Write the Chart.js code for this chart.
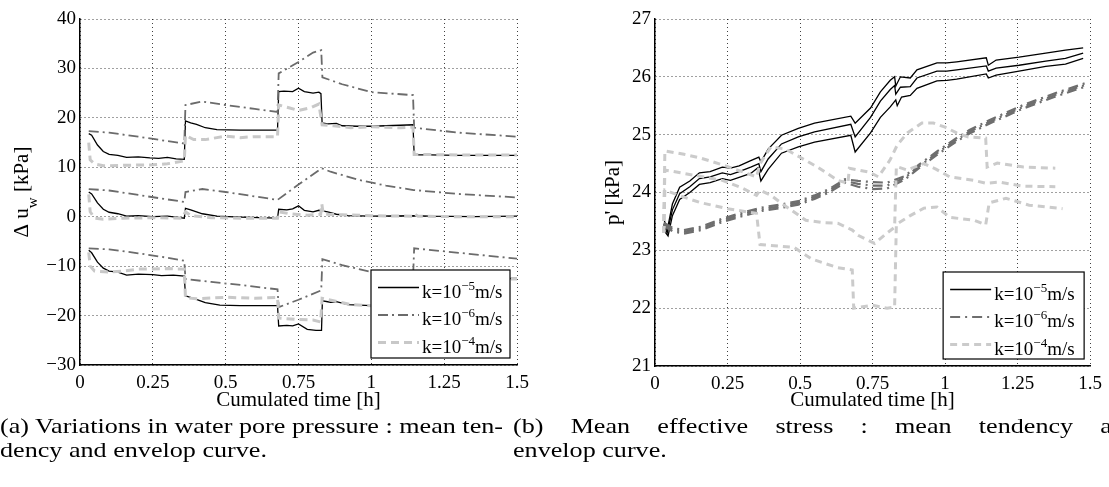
<!DOCTYPE html>
<html>
<head>
<meta charset="utf-8">
<script src="https://cdn.jsdelivr.net/npm/chart.js@4.4.1/dist/chart.umd.min.js"></script>
<style>
  html, body { margin: 0; padding: 0; background: #fff; width: 1109px; height: 487px; overflow: hidden; }
  .box { position: absolute; top: 0; height: 415px; }
  #leftBox { left: 0; width: 545px; }
  #rightBox { left: 580px; width: 529px; }
  .cap { position: absolute; font-family: "Liberation Serif", serif; font-size: 21px; white-space: nowrap; transform-origin: 0 0; color: #000; }
</style>
</head>
<body>
<div class="box" id="leftBox"><canvas id="uwChart"></canvas></div>
<div class="box" id="rightBox"><canvas id="pChart"></canvas></div>
<div class="cap" id="capA1" style="left:0;top:414px">(a) Variations in water pore pressure : mean ten-</div>
<div class="cap" id="capA2" style="left:0;top:438px">dency and envelop curve.</div>
<div class="cap" id="capB1" style="left:513px;top:414px">(b) Mean effective stress : mean tendency and</div>
<div class="cap" id="capB2" style="left:513px;top:438px">envelop curve.</div>
<script>
// ticks
const timeTicks = [0, 0.25, 0.5, 0.75, 1, 1.25, 1.5];
const uwTicks = [-30, -20, -10, 0, 10, 20, 30, 40];
const pTicks = [21, 22, 23, 24, 25, 26, 27];
const legendExps = ['\u22125', '\u22126', '\u22124'];

// (a) water pore pressure, [time h, du_w kPa]
const uwK5Up = [[0.03,16.8],[0.04,16.5],[0.06,14.5],[0.08,13.2],[0.1,12.6],[0.13,12.4],[0.16,12.0],[0.2,12.1],[0.24,11.9],[0.27,11.8],[0.3,12.0],[0.33,11.7],[0.358,11.6],[0.362,19.4],[0.38,19.0],[0.4,18.7],[0.43,18.0],[0.47,17.6],[0.55,17.5],[0.678,17.5],[0.682,25.3],[0.7,25.4],[0.73,25.3],[0.75,26.0],[0.77,25.3],[0.8,25.0],[0.82,25.2],[0.827,24.9],[0.831,19.0],[0.85,18.8],[0.88,18.9],[0.9,18.4],[0.95,18.3],[1.0,18.3],[1.1,18.5],[1.143,18.6],[1.147,12.5],[1.2,12.5],[1.3,12.4],[1.4,12.4],[1.5,12.4]];
const uwK5Mean = [[0.03,5.0],[0.04,4.6],[0.06,2.8],[0.08,1.5],[0.1,0.9],[0.13,0.6],[0.16,0.1],[0.2,0.2],[0.25,0.0],[0.3,0.1],[0.33,-0.1],[0.358,-0.3],[0.362,1.7],[0.38,1.4],[0.42,0.6],[0.47,0.1],[0.55,-0.1],[0.678,-0.3],[0.682,1.5],[0.71,1.4],[0.73,1.6],[0.75,2.2],[0.77,1.3],[0.8,1.0],[0.82,1.3],[0.85,1.0],[0.88,0.5],[0.92,0.2],[1.0,0.1],[1.15,0.2],[1.2,0.1],[1.35,0.0],[1.5,0.1]];
const uwK5Low = [[0.03,-6.8],[0.04,-7.3],[0.06,-9.2],[0.08,-10.4],[0.1,-11.0],[0.13,-11.2],[0.16,-11.8],[0.2,-11.6],[0.25,-11.7],[0.28,-11.9],[0.32,-11.8],[0.358,-12.0],[0.362,-16.0],[0.39,-16.5],[0.43,-17.4],[0.48,-17.9],[0.55,-18.0],[0.678,-18.0],[0.682,-22.1],[0.71,-22.0],[0.73,-22.1],[0.75,-21.7],[0.78,-22.8],[0.81,-23.0],[0.829,-23.0],[0.832,-17.0],[0.86,-17.3],[0.88,-17.2],[0.92,-17.8],[1.0,-18.0],[1.143,-18.0],[1.147,-12.5],[1.3,-12.5],[1.5,-12.5]];
const uwK6Up = [[0.03,17.3],[0.1,17.0],[0.2,16.2],[0.3,15.3],[0.358,14.8],[0.362,22.6],[0.42,23.3],[0.5,22.6],[0.6,21.8],[0.678,21.2],[0.682,29.0],[0.75,31.3],[0.8,33.2],[0.828,33.7],[0.832,28.2],[0.9,26.8],[1.0,25.2],[1.143,24.6],[1.147,18.0],[1.3,17.0],[1.5,16.2]];
const uwK6Mean = [[0.03,5.6],[0.1,5.3],[0.2,4.4],[0.3,3.5],[0.358,3.0],[0.362,5.0],[0.42,5.6],[0.5,5.0],[0.6,4.1],[0.678,3.4],[0.75,6.5],[0.83,9.8],[0.86,9.1],[0.96,7.4],[1.05,6.3],[1.145,5.4],[1.3,4.6],[1.5,3.9]];
const uwK6Low = [[0.03,-6.4],[0.1,-6.6],[0.2,-7.4],[0.3,-8.3],[0.358,-8.9],[0.362,-12.6],[0.45,-13.2],[0.55,-13.8],[0.678,-14.7],[0.682,-18.3],[0.75,-16.8],[0.828,-14.9],[0.832,-8.6],[0.9,-9.8],[1.0,-11.2],[1.143,-12.5],[1.147,-6.4],[1.3,-7.3],[1.5,-8.5]];
const uwK4Up = [[0.03,15.0],[0.035,11.5],[0.05,10.7],[0.08,10.3],[0.15,10.4],[0.25,10.5],[0.3,10.7],[0.358,11.3],[0.362,16.5],[0.39,15.6],[0.43,15.6],[0.47,16.0],[0.5,16.3],[0.55,16.0],[0.6,16.2],[0.678,16.2],[0.682,22.6],[0.72,22.0],[0.75,21.5],[0.79,22.0],[0.82,22.8],[0.831,18.6],[0.87,18.4],[0.93,18.0],[1.0,18.2],[1.1,18.0],[1.143,18.1],[1.147,12.6],[1.3,12.5],[1.5,12.5]];
const uwK4Mean = [[0.03,4.5],[0.035,1.0],[0.05,-0.3],[0.08,-0.5],[0.15,-0.3],[0.25,-0.2],[0.35,-0.3],[0.362,1.0],[0.38,0.2],[0.45,-0.2],[0.55,-0.3],[0.678,-0.3],[0.682,1.0],[0.72,0.6],[0.78,0.3],[0.826,0.5],[0.83,2.6],[0.835,0.5],[0.9,0.4],[1.0,0.2],[1.143,0.1],[1.147,0.6],[1.16,0.1],[1.3,0.0],[1.5,0.0]];
const uwK4Low = [[0.03,-7.2],[0.035,-10.0],[0.05,-11.0],[0.1,-11.2],[0.15,-11.0],[0.2,-10.6],[0.3,-10.5],[0.358,-10.6],[0.362,-16.4],[0.4,-16.6],[0.5,-16.3],[0.6,-16.5],[0.678,-16.3],[0.682,-20.5],[0.75,-20.8],[0.8,-20.9],[0.826,-21.3],[0.831,-16.5],[0.87,-17.0],[0.93,-17.8],[1.0,-18.0],[1.143,-18.0],[1.147,-12.6],[1.5,-12.6]];

// (b) mean effective stress, [time h, p' kPa]
const pK5Up = [[0.03,23.55],[0.042,23.35],[0.06,23.8],[0.085,24.09],[0.12,24.2],[0.153,24.34],[0.19,24.36],[0.232,24.44],[0.26,24.42],[0.29,24.46],[0.33,24.55],[0.358,24.61],[0.365,24.53],[0.39,24.75],[0.436,24.99],[0.494,25.11],[0.55,25.2],[0.675,25.32],[0.69,25.2],[0.743,25.46],[0.777,25.74],[0.811,25.94],[0.826,26.0],[0.83,25.84],[0.846,26.0],[0.88,25.98],[0.903,26.12],[0.972,26.24],[1.006,26.24],[1.04,26.26],[1.142,26.33],[1.149,26.2],[1.176,26.29],[1.255,26.34],[1.347,26.41],[1.415,26.46],[1.476,26.5]];
const pK5Mean = [[0.03,23.45],[0.042,23.3],[0.06,23.7],[0.085,23.98],[0.12,24.1],[0.153,24.24],[0.19,24.27],[0.232,24.34],[0.26,24.31],[0.29,24.36],[0.33,24.44],[0.358,24.5],[0.365,24.36],[0.39,24.58],[0.436,24.84],[0.494,24.96],[0.55,25.05],[0.675,25.18],[0.69,24.96],[0.743,25.3],[0.777,25.58],[0.811,25.78],[0.826,25.85],[0.83,25.7],[0.846,25.82],[0.88,25.83],[0.903,25.98],[0.972,26.1],[1.006,26.1],[1.04,26.12],[1.142,26.19],[1.149,26.1],[1.176,26.15],[1.255,26.2],[1.347,26.27],[1.415,26.32],[1.476,26.41]];
const pK5Low = [[0.03,23.35],[0.045,23.25],[0.06,23.6],[0.085,23.88],[0.12,24.0],[0.153,24.14],[0.19,24.17],[0.232,24.24],[0.26,24.21],[0.29,24.26],[0.33,24.33],[0.355,24.43],[0.365,24.2],[0.39,24.4],[0.436,24.68],[0.494,24.79],[0.55,24.87],[0.675,24.99],[0.69,24.7],[0.743,25.03],[0.777,25.3],[0.811,25.48],[0.83,25.6],[0.835,25.5],[0.85,25.65],[0.88,25.68],[0.903,25.8],[0.972,25.93],[1.006,25.94],[1.04,25.96],[1.142,26.05],[1.149,25.98],[1.176,26.03],[1.255,26.1],[1.347,26.18],[1.415,26.22],[1.476,26.32]];
const pK6Up = [[0.03,23.48],[0.06,23.39],[0.1,23.35],[0.16,23.41],[0.232,23.55],[0.3,23.65],[0.368,23.74],[0.43,23.79],[0.494,23.85],[0.55,23.95],[0.6,24.06],[0.655,24.23],[0.7,24.2],[0.75,24.18],[0.8,24.17],[0.86,24.28],[0.91,24.48],[0.972,24.71],[1.03,24.91],[1.084,25.08],[1.152,25.25],[1.268,25.51],[1.381,25.72],[1.483,25.89]];
const pK6Mean = [[0.03,23.45],[0.06,23.36],[0.1,23.32],[0.16,23.38],[0.232,23.52],[0.3,23.62],[0.368,23.71],[0.43,23.76],[0.494,23.82],[0.55,23.92],[0.6,24.03],[0.655,24.2],[0.7,24.15],[0.75,24.12],[0.8,24.12],[0.86,24.25],[0.91,24.45],[0.972,24.68],[1.03,24.88],[1.084,25.05],[1.152,25.22],[1.268,25.48],[1.381,25.69],[1.483,25.86]];
const pK6Low = [[0.03,23.42],[0.06,23.33],[0.1,23.29],[0.16,23.35],[0.232,23.49],[0.3,23.59],[0.368,23.68],[0.43,23.73],[0.494,23.79],[0.55,23.89],[0.6,24.0],[0.655,24.17],[0.7,24.1],[0.75,24.06],[0.8,24.07],[0.86,24.22],[0.91,24.42],[0.972,24.65],[1.03,24.85],[1.084,25.02],[1.152,25.19],[1.268,25.45],[1.381,25.66],[1.483,25.83]];
const pK4Up = [[0.03,23.3],[0.034,24.72],[0.1,24.66],[0.153,24.6],[0.2,24.53],[0.256,24.44],[0.3,24.36],[0.35,24.27],[0.362,24.5],[0.4,24.79],[0.45,24.75],[0.5,24.61],[0.56,24.44],[0.63,24.21],[0.665,24.16],[0.67,24.42],[0.74,24.35],[0.77,24.27],[0.81,24.56],[0.835,24.82],[0.87,25.03],[0.92,25.2],[0.96,25.2],[1.0,25.13],[1.04,25.03],[1.08,24.96],[1.14,24.94],[1.145,24.44],[1.18,24.51],[1.27,24.44],[1.38,24.42]];
const pK4Mean = [[0.03,23.3],[0.034,24.39],[0.1,24.33],[0.232,24.21],[0.3,24.08],[0.35,23.95],[0.362,24.04],[0.4,23.95],[0.44,23.8],[0.52,23.52],[0.58,23.48],[0.63,23.47],[0.68,23.35],[0.7,23.26],[0.757,23.12],[0.8,23.3],[0.826,23.4],[0.832,24.45],[0.869,24.39],[0.927,24.5],[0.97,24.4],[1.016,24.27],[1.1,24.21],[1.14,24.16],[1.187,24.18],[1.268,24.11],[1.38,24.1]];
const pK4Low = [[0.03,23.3],[0.034,24.04],[0.1,23.92],[0.153,23.83],[0.25,23.72],[0.35,23.64],[0.362,23.1],[0.48,23.05],[0.54,22.85],[0.63,22.7],[0.68,22.66],[0.685,22.0],[0.75,22.05],[0.8,22.0],[0.826,22.02],[0.832,23.45],[0.88,23.6],[0.927,23.73],[0.972,23.75],[1.016,23.57],[1.1,23.52],[1.14,23.44],[1.152,23.82],[1.21,23.9],[1.29,23.78],[1.405,23.72]];

const pts = arr => arr.map(([x, y]) => ({x: x, y: y}));

const serif = '"Liberation Serif", "Times New Roman", serif';

// axis titles and the boxed legend inside the plot; cfg is kept in the closure
function makeOverlay(cfg) {
    return {
        id: 'overlay',
        afterDraw(chart) {
            const ctx = chart.ctx;
            const a = chart.chartArea;
            ctx.save();
            ctx.fillStyle = '#000';
            ctx.textBaseline = 'alphabetic';

            // x title
            ctx.font = '21px ' + serif;
            ctx.textAlign = 'center';
            ctx.fillText('Cumulated time [h]', (a.left + a.right) / 2, cfg.xTitleY);

            // y title, rotated; pieces may be subscripted
            ctx.save();
            ctx.translate(cfg.yTitleX, (a.top + a.bottom) / 2);
            ctx.rotate(-Math.PI / 2);
            ctx.textAlign = 'left';
            let total = 0;
            cfg.yTitle.forEach(p => {
                ctx.font = p[1] + 'px ' + serif;
                total += ctx.measureText(p[0]).width;
            });
            let cx = -total / 2;
            cfg.yTitle.forEach(p => {
                ctx.font = p[1] + 'px ' + serif;
                ctx.fillText(p[0], cx, p[2]);
                cx += ctx.measureText(p[0]).width;
            });
            ctx.restore();

            // legend
            const L = cfg.legend;
            const bx = a.right - L.right - L.w;
            const by = a.bottom - L.bottom - L.h;
            ctx.fillStyle = '#fff';
            ctx.fillRect(bx, by, L.w, L.h);
            ctx.strokeStyle = '#000';
            ctx.lineWidth = 1.2;
            ctx.strokeRect(bx, by, L.w, L.h);
            L.items.forEach((it, i) => {
                const ly = by + 17.5 + i * 27.5;
                ctx.save();
                ctx.strokeStyle = it.color;
                ctx.lineWidth = it.width;
                ctx.setLineDash(it.dash);
                ctx.beginPath();
                ctx.moveTo(bx + 7, ly);
                ctx.lineTo(bx + 48, ly);
                ctx.stroke();
                ctx.restore();
                ctx.fillStyle = '#000';
                ctx.textAlign = 'left';
                let tx = bx + 51;
                const base = ly + 10;
                ctx.font = '19px ' + serif;
                ctx.fillText('k=10', tx, base);
                tx += ctx.measureText('k=10').width;
                ctx.font = '13px ' + serif;
                ctx.fillText(legendExps[i], tx, base - 8);
                tx += ctx.measureText(legendExps[i]).width;
                ctx.font = '19px ' + serif;
                ctx.fillText('m/s', tx, base);
            });
            ctx.restore();
        }
    };
}

function axes(yMin, yMax, yTickVals, yWidth, xHeight) {
    const tickFont = {family: serif, size: 19};
    return {
        x: {
            type: 'linear', min: 0, max: 1.5,
            afterBuildTicks: s => { s.ticks = timeTicks.map(v => ({value: v})); },
            afterFit: s => { s.height = xHeight; },
            grid: {color: 'rgba(0,0,0,0.75)', lineWidth: 1, drawTicks: false},
            border: {color: '#000', width: 1.5, dash: [1, 3]},
            ticks: {color: '#000', font: tickFont, padding: 7, maxRotation: 0, autoSkip: false,
                callback: v => String(v)}
        },
        y: {
            type: 'linear', min: yMin, max: yMax,
            afterBuildTicks: s => { s.ticks = yTickVals.map(v => ({value: v})); },
            afterFit: s => { s.width = yWidth; },
            grid: {color: 'rgba(0,0,0,0.75)', lineWidth: 1, drawTicks: false},
            border: {color: '#000', width: 1.5, dash: [1, 3]},
            ticks: {color: '#000', font: tickFont, padding: 4, autoSkip: false,
                callback: v => String(v).replace('-', '\u2212')}
        }
    };
}

function ds(label, data, st) {
    return {
        label: label, data: pts(data), borderColor: st.color, borderWidth: st.width,
        borderDash: st.dash, pointRadius: 0, tension: 0, fill: false, order: st.order
    };
}

// left chart styles
const sK5 = {color: '#000000', width: 1.3, dash: [], order: 2};
const sK6 = {color: '#6b6b6b', width: 1.8, dash: [10, 4, 2, 4], order: 1};
const sK4 = {color: '#c8c8c8', width: 3, dash: [8, 5], order: 0};
// right chart styles
const rK6 = {color: '#6e6e6e', width: 2.2, dash: [10, 5, 2, 5], order: 1};
const rK4 = {color: '#cbcbcb', width: 3, dash: [7, 5], order: 0};

new Chart(document.getElementById('uwChart'), {
    type: 'line',
    data: {
        datasets: [
            ds('k=1e-5 up', uwK5Up, sK5), ds('k=1e-5 mean', uwK5Mean, sK5), ds('k=1e-5 low', uwK5Low, sK5),
            ds('k=1e-6 up', uwK6Up, sK6), ds('k=1e-6 mean', uwK6Mean, sK6), ds('k=1e-6 low', uwK6Low, sK6),
            ds('k=1e-4 up', uwK4Up, sK4), ds('k=1e-4 mean', uwK4Mean, sK4), ds('k=1e-4 low', uwK4Low, sK4)
        ]
    },
    options: {
        responsive: true, maintainAspectRatio: false, animation: false,
        layout: {padding: {left: 0, top: 19, right: 28, bottom: 0}},
        scales: axes(-30, 40, uwTicks, 80, 50),
        plugins: {legend: {display: false}, tooltip: {enabled: false}}
    },
    plugins: [makeOverlay({
        xTitleY: 406, yTitleX: 28,
        yTitle: [['\u0394 u', 21, 0], ['w', 15, 9], [' [kPa]', 21, 0]],
        legend: {w: 139, h: 88, right: 7, bottom: 7, items: [sK5, sK6, sK4]}
    })]
});

new Chart(document.getElementById('pChart'), {
    type: 'line',
    data: {
        datasets: [
            ds('k=1e-5 up', pK5Up, sK5), ds('k=1e-5 mean', pK5Mean, sK5), ds('k=1e-5 low', pK5Low, sK5),
            ds('k=1e-6 up', pK6Up, rK6), ds('k=1e-6 mean', pK6Mean, rK6), ds('k=1e-6 low', pK6Low, rK6),
            ds('k=1e-4 up', pK4Up, rK4), ds('k=1e-4 mean', pK4Mean, rK4), ds('k=1e-4 low', pK4Low, rK4)
        ]
    },
    options: {
        responsive: true, maintainAspectRatio: false, animation: false,
        layout: {padding: {left: 0, top: 19, right: 14, bottom: 0}},
        scales: axes(21, 27, pTicks, 75, 49),
        plugins: {legend: {display: false}, tooltip: {enabled: false}}
    },
    plugins: [makeOverlay({
        xTitleY: 406, yTitleX: 39,
        yTitle: [["p' [kPa]", 21, 0]],
        legend: {w: 141, h: 87, right: 6, bottom: 7, items: [sK5, rK6, rK4]}
    })]
});

// captions: same horizontal scale for all lines, first lines justified by word spacing
const capA1 = document.getElementById('capA1');
const capScale = 503 / capA1.getBoundingClientRect().width;
function setLine(id, width) {
    const el = document.getElementById(id);
    el.style.transform = 'scaleX(' + capScale + ')';
    if (width) {
        const w = el.getBoundingClientRect().width;
        const spaces = (el.textContent.match(/ /g) || []).length;
        el.style.wordSpacing = ((width - w) / capScale / spaces) + 'px';
    }
}
setLine('capA1');
setLine('capA2');
setLine('capB1', 625);
setLine('capB2');
</script>
</body>
</html>
